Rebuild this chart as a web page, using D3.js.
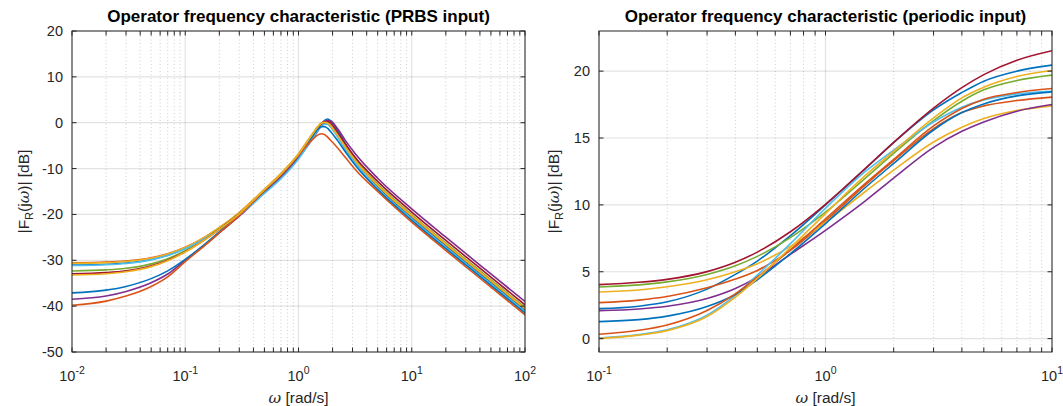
<!DOCTYPE html>
<html>
<head>
<meta charset="utf-8">
<script src="https://cdn.jsdelivr.net/npm/d3@7"></script>
<style>
  body { margin: 0; background: #fff; }
  svg { font-family: "Liberation Sans", Arial, sans-serif; }
</style>
</head>
<body>
<div id="fig"></div>
<script>
//////two Bode-type magnitude plots, MATLAB look
//////left = PRBS input, right = periodic input

// frequencies [rad/s]
const omegaPRBS = [0.01, 0.02, 0.03, 0.05, 0.07, 0.1, 0.15, 0.2, 0.3, 0.5, 0.7, 1, 1.3, 1.5, 1.6, 1.7, 1.8, 1.9, 2.2, 2.6, 3.2, 5, 10, 20, 50, 100];
const omegaPer  = [0.1, 0.15, 0.2, 0.3, 0.4, 0.5, 0.7, 1, 1.5, 2, 3, 4, 5, 7, 10];

// PRBS input, |F_R| in dB, one array per experiment
const prbs01 = [-31.04,-30.87,-30.6,-29.84,-28.9,-27.45,-25.05,-23.0,-19.85,-14.9,-11.5,-7.25,-3.4,-1.2,-0.2,0.5,0.8,0.5,-1.5,-4.6,-8.0,-13.9,-20.68,-26.87,-34.87,-40.9];
const prbs02 = [-30.54,-30.39,-30.15,-29.45,-28.58,-27.16,-24.89,-22.9,-19.58,-14.55,-11.1,-6.8,-2.8,-0.8,-0.2,0.0,-0.2,-0.7,-2.8,-5.5,-8.5,-13.7,-20.38,-26.57,-34.57,-40.6];
const prbs03 = [-30.65,-30.5,-30.25,-29.55,-28.65,-27.22,-24.92,-22.9,-19.58,-14.55,-11.1,-6.8,-2.75,-0.65,0.0,0.2,0.05,-0.45,-2.55,-5.25,-8.25,-13.5,-20.18,-26.37,-34.37,-40.4];
const prbs04 = [-38.5,-37.8,-36.8,-34.9,-33.0,-30.0,-26.6,-24.0,-20.4,-15.2,-11.9,-7.7,-3.9,-1.6,-0.6,0.1,0.45,0.4,-1.2,-3.9,-6.9,-12.1,-18.8,-24.97,-32.97,-39.0];
const prbs05 = [-32.33,-32.1,-31.75,-30.78,-29.64,-27.9,-25.31,-23.16,-19.81,-14.7,-11.3,-7.0,-3.0,-0.85,-0.2,0.0,-0.1,-0.5,-2.5,-5.15,-8.15,-13.4,-20.08,-26.27,-34.27,-40.3];
const prbs06 = [-31.14,-30.97,-30.69,-29.91,-28.96,-27.5,-25.2,-23.3,-20.2,-15.4,-12.2,-7.9,-3.8,-1.5,-0.7,-0.35,-0.35,-0.8,-3.0,-5.9,-8.9,-14.3,-20.98,-27.17,-35.17,-41.2];
const prbs07 = [-32.96,-32.7,-32.3,-31.21,-29.97,-28.12,-25.43,-23.24,-19.9,-14.8,-11.4,-7.1,-3.1,-0.9,-0.1,0.25,0.3,0.0,-2.0,-4.7,-7.7,-12.8,-19.48,-25.67,-33.67,-39.7];
const prbs08 = [-37.1,-36.5,-35.7,-34.0,-32.3,-29.8,-26.4,-23.8,-20.0,-14.85,-11.4,-7.1,-3.3,-1.3,-0.85,-0.85,-1.2,-1.8,-3.8,-6.4,-9.4,-14.6,-21.28,-27.47,-35.47,-41.5];
const prbs09 = [-39.8,-38.9,-37.8,-35.7,-33.6,-30.3,-26.7,-24.0,-20.2,-14.8,-11.4,-7.1,-3.9,-2.6,-2.4,-2.6,-3.1,-3.7,-5.4,-7.6,-10.3,-15.0,-21.68,-27.87,-35.87,-41.9];
const prbs10 = [-33.2,-32.93,-32.5,-31.38,-30.09,-28.2,-25.47,-23.26,-19.86,-14.6,-11.2,-6.9,-2.85,-0.75,-0.1,0.1,-0.05,-0.55,-2.65,-5.35,-8.35,-13.6,-20.28,-26.47,-34.47,-40.5];

// periodic input, |F_R| in dB
const per01 = [2.24,2.42,2.75,3.7,4.8,5.8,7.7,10.0,12.7,14.65,17.1,18.4,19.25,20.0,20.45];
const per02 = [2.69,2.88,3.15,3.8,4.45,5.1,6.6,8.8,11.5,13.3,15.7,16.9,17.4,17.8,18.06];
const per03 = [3.49,3.64,3.88,4.4,5.0,5.6,6.9,8.7,11.0,12.6,14.7,15.8,16.45,17.05,17.4];
const per04 = [2.09,2.22,2.42,3.0,3.75,4.6,6.3,8.1,10.3,12.0,14.3,15.5,16.2,17.0,17.5];
const per05 = [3.86,4.02,4.24,4.8,5.45,6.15,7.55,9.45,12.0,13.85,16.3,17.75,18.6,19.3,19.7];
const per06 = [0.05,0.3,0.66,1.75,3.25,4.75,7.1,9.75,12.5,14.1,16.2,17.3,17.85,18.3,18.5];
const per07 = [4.04,4.21,4.43,5.01,5.71,6.47,7.99,10.04,12.73,14.68,17.24,18.77,19.74,20.82,21.53];
const per08 = [1.27,1.42,1.68,2.4,3.3,4.4,6.35,8.6,11.3,13.1,15.6,16.9,17.55,18.15,18.45];
const per09 = [0.33,0.62,1.02,2.1,3.35,4.6,6.65,8.95,11.6,13.4,15.9,17.2,17.9,18.4,18.7];
const per10 = [0.0,0.26,0.6,1.65,3.1,4.5,6.8,9.35,12.2,14.0,16.5,18.0,18.8,19.6,20.05];

// y tick values
const yTicksPRBS = [-50, -40, -30, -20, -10, 0, 10, 20];
const yTicksPer  = [0, 5, 10, 15, 20];

// MATLAB default colour order
const lineColors = ["#0072BD", "#D95319", "#EDB120", "#7E2F8E", "#77AC30", "#4DBEEE", "#A2142F"];

const prbsSeries = [prbs01, prbs02, prbs03, prbs04, prbs05, prbs06, prbs07, prbs08, prbs09, prbs10];
const perSeries  = [per01, per02, per03, per04, per05, per06, per07, per08, per09, per10];

const W = 1063, H = 406;
const ink = "#262626";

const svg = d3.select("#fig").append("svg")
    .attr("width", W)
    .attr("height", H);

const drawPanel = (cfg) => {
  const x = d3.scaleLog().domain(cfg.xDomain).range([cfg.left, cfg.left + cfg.width]);
  const y = d3.scaleLinear().domain(cfg.yDomain).range([cfg.top + cfg.height, cfg.top]);
  const g = svg.append("g");
  const x0 = cfg.left, x1 = cfg.left + cfg.width;
  const y0 = cfg.top + cfg.height, y1 = cfg.top;

  // decade and minor positions
  const lo = Math.round(Math.log10(cfg.xDomain[0])), hi = Math.round(Math.log10(cfg.xDomain[1]));
  const majors = d3.range(lo, hi + 1).map(e => Math.pow(10, e));
  const minors = [];
  d3.range(lo, hi).forEach(e => { for (let k = 2; k <= 9; k++) minors.push(k * Math.pow(10, e)); });

  ////grid
  g.selectAll(".minorgrid").data(minors).enter().append("line")
      .attr("x1", d => x(d)).attr("x2", d => x(d))
      .attr("y1", y0).attr("y2", y1)
      .style("stroke", ink).style("stroke-opacity", 0.22)
      .style("stroke-dasharray", "1,2.5").style("stroke-width", 1);
  g.selectAll(".majorgridx").data(majors).enter().append("line")
      .attr("x1", d => x(d)).attr("x2", d => x(d))
      .attr("y1", y0).attr("y2", y1)
      .style("stroke", ink).style("stroke-opacity", 0.13).style("stroke-width", 1.2);
  g.selectAll(".majorgridy").data(cfg.yTicks).enter().append("line")
      .attr("x1", x0).attr("x2", x1)
      .attr("y1", d => y(d)).attr("y2", d => y(d))
      .style("stroke", ink).style("stroke-opacity", 0.13).style("stroke-width", 1.2);

  ////curves
  const clipId = "clip" + cfg.id;
  svg.append("clipPath").attr("id", clipId).append("rect")
      .attr("x", x0).attr("y", y1).attr("width", cfg.width).attr("height", cfg.height);
  const line = d3.line()
      .x((d, i) => x(cfg.omega[i]))
      .y(d => y(d))
      .curve(d3.curveMonotoneX);
  g.append("g").attr("clip-path", `url(#${clipId})`)
    .selectAll("path").data(cfg.series).enter().append("path")
      .attr("d", d => line(d))
      .style("fill", "none")
      .style("stroke", (d, i) => lineColors[i % lineColors.length])
      .style("stroke-width", 1.6);

  ////box
  g.append("rect")
      .attr("x", x0).attr("y", y1).attr("width", cfg.width).attr("height", cfg.height)
      .style("fill", "none").style("stroke", ink).style("stroke-width", 1);

  ////ticks, inward on all sides
  const tl = 4.5;
  const xt = majors.concat(minors);
  g.selectAll(".xtb").data(xt).enter().append("line")
      .attr("x1", d => x(d)).attr("x2", d => x(d))
      .attr("y1", y0).attr("y2", y0 - tl)
      .style("stroke", ink).style("stroke-width", 1);
  g.selectAll(".xtt").data(xt).enter().append("line")
      .attr("x1", d => x(d)).attr("x2", d => x(d))
      .attr("y1", y1).attr("y2", y1 + tl)
      .style("stroke", ink).style("stroke-width", 1);
  g.selectAll(".ytl").data(cfg.yTicks).enter().append("line")
      .attr("x1", x0).attr("x2", x0 + tl)
      .attr("y1", d => y(d)).attr("y2", d => y(d))
      .style("stroke", ink).style("stroke-width", 1);
  g.selectAll(".ytr").data(cfg.yTicks).enter().append("line")
      .attr("x1", x1).attr("x2", x1 - tl)
      .attr("y1", d => y(d)).attr("y2", d => y(d))
      .style("stroke", ink).style("stroke-width", 1);

  ////tick labels
  g.selectAll(".ylab").data(cfg.yTicks).enter().append("text")
      .attr("x", x0 - 9).attr("y", d => y(d) + 5)
      .attr("text-anchor", "end")
      .style("font-size", "14.5px").style("fill", ink)
      .text(d => String(d));
  const xl = g.selectAll(".xlab").data(majors).enter().append("text")
      .attr("x", d => x(d)).attr("y", y0 + 29)
      .attr("text-anchor", "middle")
      .style("font-size", "14.5px").style("fill", ink);
  xl.append("tspan").text("10");
  xl.append("tspan").attr("dy", -7).style("font-size", "10.5px")
      .text(d => String(Math.round(Math.log10(d))));

  ////title
  g.append("text")
      .attr("x", x0 + cfg.width / 2).attr("y", 22)
      .attr("text-anchor", "middle")
      .style("font-size", "17px").style("font-weight", "bold").style("fill", "#000")
      .text(cfg.title);

  ////x label
  const xlabel = g.append("text")
      .attr("x", x0 + cfg.width / 2).attr("y", 403)
      .attr("text-anchor", "middle")
      .style("font-size", "15.5px").style("fill", ink);
  xlabel.append("tspan").style("font-family", "'DejaVu Serif', serif").style("font-style", "italic").text("ω");
  xlabel.append("tspan").text(" [rad/s]");

  ////y label
  const ylabel = g.append("text")
      .attr("transform", `translate(${cfg.yLabelX},${(y0 + y1) / 2}) rotate(-90)`)
      .attr("text-anchor", "middle")
      .style("font-size", "15.5px").style("fill", ink);
  ylabel.append("tspan").text("|F");
  ylabel.append("tspan").attr("dy", 4).style("font-size", "11px").text("R");
  ylabel.append("tspan").attr("dy", -4).text("(j");
  ylabel.append("tspan").style("font-family", "'DejaVu Serif', serif").style("font-style", "italic").text("ω");
  ylabel.append("tspan").text(")| [dB]");
};

drawPanel({
  id: 1, left: 72, top: 31, width: 453, height: 321,
  xDomain: [0.01, 100], yDomain: [-50, 20], yTicks: yTicksPRBS,
  omega: omegaPRBS, series: prbsSeries, yLabelX: 29,
  title: "Operator frequency characteristic (PRBS input)"
});

drawPanel({
  id: 2, left: 599, top: 31, width: 453, height: 321,
  xDomain: [0.1, 10], yDomain: [-1, 23], yTicks: yTicksPer,
  omega: omegaPer, series: perSeries, yLabelX: 559,
  title: "Operator frequency characteristic (periodic input)"
});
</script>
</body>
</html>
